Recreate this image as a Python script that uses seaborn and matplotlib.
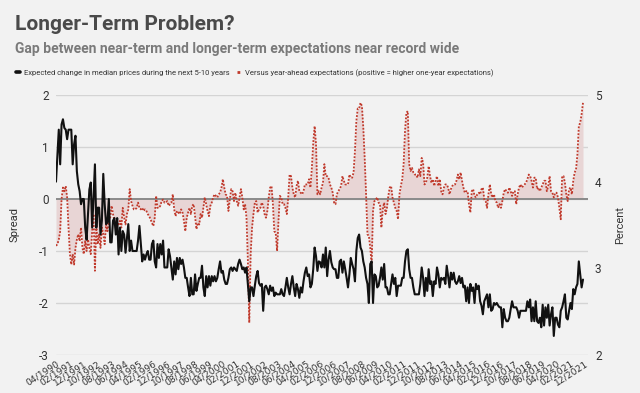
import numpy as np
import pandas as pd
import matplotlib
matplotlib.use("Agg")
import matplotlib.pyplot as plt
from matplotlib.lines import Line2D
import seaborn as sns

# ---------------- data (monthly, 04/1990 .. 11/2021) ----------------
long_term_pct = [
    4.0, 4.3, 4.6, 4.2, 4.66, 4.72, 4.62, 4.6, 4.49, 4.6, 4.6, 4.6, 4.2, 4.43, 4.53, 4.12, 3.97, 3.89, 3.74, 3.8,
    3.8, 3.47, 3.33, 3.62, 3.91, 3.99, 3.47, 3.82, 4.2, 3.47, 3.7, 3.7, 3.39, 3.55, 4.09, 3.74, 3.51, 3.53, 3.8, 3.3,
    3.3, 3.55, 3.58, 3.39, 3.58, 3.16, 3.47, 3.2, 3.43, 3.39, 3.18, 3.35, 3.51, 3.2, 3.32, 3.2, 3.2, 3.2, 3.2, 3.32,
    3.49, 3.28, 3.08, 3.16, 3.1,
    3.16, 3.2, 3.1, 3.1, 3.28, 3.32, 3.08, 3.01, 3.28, 3.12, 3.28, 3.16, 3.32, 3.01, 3.01, 3.01, 3.22, 3.14, 3.01, 2.87,
    3.08, 2.93, 3.12, 2.99, 3.12, 3.05, 3.1, 3.01, 2.89, 2.89, 2.78, 2.68, 2.89, 2.7, 2.7, 2.93, 2.74, 2.82, 2.89, 2.89,
    3.03, 2.78, 2.68, 2.91, 2.78, 2.91, 2.8, 2.91, 2.85, 2.91, 2.85, 2.89, 2.99, 3.08, 2.95, 2.97, 2.87, 2.82, 2.82, 2.89,
    2.99, 3.01, 2.97,
    3.01, 2.99, 2.97, 3.05, 3.1, 3.05, 2.99, 3.01, 2.95, 3.01, 2.82, 2.62, 2.78, 2.78, 2.68, 2.8, 2.91, 2.97, 2.83, 2.8,
    2.82, 2.51, 2.78, 2.8, 2.76, 2.7, 2.8, 2.74, 2.78, 2.68, 2.72, 2.7, 2.7, 2.7, 2.76, 2.7, 2.68, 2.78, 2.89, 2.78,
    2.7, 2.82, 2.91, 2.78, 2.68, 2.82, 2.76, 2.66, 2.78, 2.72, 2.85, 2.95, 3.01, 2.91, 2.93, 2.78, 2.82, 2.99, 3.24, 3.14,
    2.97, 3.08, 3.07,
    3.01, 3.16, 3.01, 3.24, 2.91, 3.1, 3.2, 3.07, 3.01, 2.99, 2.99, 2.89, 2.89, 3.08, 3.1, 2.95, 3.08, 2.99, 2.89, 2.78,
    2.93, 3.12, 3.05, 2.99, 2.85, 3.2, 3.35, 3.39, 3.24, 3.2, 3.08, 3.01, 2.89, 2.82, 2.6, 3.05, 3.08, 2.6, 2.93, 2.91,
    2.78, 2.8, 2.89, 3.01, 2.87, 3.05, 2.78, 2.78, 2.7, 2.7, 2.82, 2.93, 2.82, 2.89, 2.68, 2.8, 2.8, 2.8, 2.89, 2.89,
    3.08, 3.2, 3.22,
    2.99, 2.89, 2.89, 2.78, 2.7, 2.7, 2.7, 2.7, 2.82, 3.01, 2.89, 2.68, 2.89, 2.74, 2.99, 2.82, 2.85, 2.68, 2.85, 2.82,
    3.01, 2.93, 2.78, 2.89, 2.87, 2.89, 2.82, 3.03, 2.91, 2.78, 2.95, 2.87, 2.95, 2.85, 2.82, 2.85, 2.91, 2.83, 2.89, 2.78,
    2.8, 2.62, 2.78, 2.6, 2.82, 2.74, 2.78, 2.6, 2.82, 2.76, 2.8, 2.62, 2.57, 2.47, 2.62, 2.66, 2.7, 2.55, 2.7, 2.51,
    2.53, 2.6,
    2.58, 2.6, 2.57, 2.55, 2.55, 2.32, 2.53, 2.43, 2.39, 2.39, 2.43, 2.53, 2.62, 2.55, 2.55, 2.55, 2.51, 2.43, 2.51, 2.51,
    2.51, 2.51, 2.51, 2.62, 2.55, 2.64, 2.39, 2.55, 2.39, 2.62, 2.39, 2.37, 2.43, 2.32, 2.58, 2.34, 2.55, 2.43, 2.58, 2.34,
    2.47, 2.55, 2.22, 2.43, 2.43, 2.35, 2.32, 2.51, 2.55, 2.62, 2.7, 2.43, 2.41, 2.51, 2.6, 2.53, 2.76, 2.7, 2.78, 2.82,
    3.08, 2.93, 2.78, 2.87,
]

spread_vs_year_ahead = [
    -0.9, -0.87, -0.78, -0.62, 0.0, 0.22, 0.15, 0.25, 0.03, -0.55, -1.06, -1.26, -1.06, -1.26, -0.94, -0.78, -0.68, -0.81, -0.55, -0.94,
    -1.06, -0.81, -1.0, -0.78, -0.94, -1.06, -0.62, -0.29, -1.38, -0.49, -0.87, -0.68, -0.94, -0.55, -0.68, -0.87, -0.49, -0.62, -0.42, -0.36,
    -0.13, -0.29, -0.42, -0.55, -0.46, -0.49, -0.42, -0.55, -0.17, -0.36, -0.49, -0.29, -0.2, 0.19, -0.04, -0.13, -0.2, -0.2, -0.17, -0.07,
    -0.17, -0.2, -0.17, -0.23, -0.2,
    -0.23, -0.29, -0.33, -0.39, -0.46, -0.52, -0.36, 0.06, -0.17, -0.17, -0.13, -0.04, -0.01, -0.07, -0.07, -0.04, -0.13, -0.1, -0.07, 0.09,
    -0.2, -0.33, -0.23, -0.26, -0.29, -0.2, -0.26, -0.42, -0.62, -0.36, -0.26, -0.17, -0.29, -0.13, -0.1, -0.33, -0.58, -0.46, -0.49, -0.29,
    -0.36, -0.17, 0.03, -0.1, -0.23, -0.33, -0.13, -0.07, 0.03, 0.09, 0.06, 0.03, 0.09, 0.12, 0.22, 0.38, 0.22, 0.09, 0.06, -0.23,
    -0.01, 0.19, 0.15,
    -0.04, 0.12, -0.04, -0.13, 0.03, 0.19, 0.03, -0.2, -0.1, -0.36, -1.19, -2.38, -1.06, -0.55, -0.29, -0.07, -0.04, -0.26, -0.2, -0.17,
    -0.07, -0.13, -0.29, -0.36, -0.23, 0.03, 0.22, 0.25, -0.1, -0.62, -0.65, -1.0, -0.42, 0.06, 0.03, -0.1, -0.1, -0.17, -0.29, 0.03,
    0.47, 0.44, 0.22, 0.09, 0.03, 0.25, 0.35, 0.15, 0.12, 0.09, 0.15, 0.28, 0.28, 0.28, 0.38, 0.22, 0.6, 1.08, 1.4, 1.05,
    0.09, 0.15, 0.09,
    0.22, 0.31, 0.67, 0.44, 0.44, 0.41, 0.28, 0.22, 0.12, -0.07, -0.1, 0.09, 0.15, 0.19, 0.25, 0.44, 0.35, 0.28, 0.28, 0.28,
    0.47, 0.41, 0.41, 0.51, 0.92, 1.5, 1.74, 1.74, 1.85, 1.79, 1.37, 0.79, 0.09, -0.68, -0.71, -0.94, -1.25, -0.23, -0.04, -0.01,
    0.03, -0.07, -0.1, -0.55, -0.2, -0.07, -0.29, -0.17, 0.06, 0.22, 0.25, 0.03, -0.07, -0.17, -0.23, -0.39, 0.09, 0.25, 0.38, 0.67,
    1.31, 1.66, 1.69,
    0.67, 0.54, 0.6, 0.51, 0.47, 0.47, 0.41, 0.57, 0.44, 0.79, 0.7, 0.28, 0.31, 0.41, 0.63, 0.44, 0.31, 0.38, 0.25, 0.35,
    0.44, 0.25, 0.38, 0.15, 0.09, 0.22, 0.28, 0.28, 0.22, 0.09, 0.19, 0.25, 0.28, 0.28, 0.35, 0.47, 0.38, 0.51, 0.35, 0.22,
    0.12, 0.15, 0.15, -0.1, -0.26, 0.15, 0.19, 0.06, 0.03, 0.09, 0.12, 0.09, 0.19, 0.22, -0.01, -0.04, -0.17, 0.09, 0.28, 0.09,
    0.03, 0.09,
    -0.04, -0.07, -0.17, -0.1, -0.17, -0.04, 0.12, 0.19, 0.15, 0.12, 0.22, 0.15, 0.06, 0.15, 0.15, -0.1, 0.09, 0.22, 0.28, 0.22,
    0.25, 0.28, 0.31, 0.38, 0.47, 0.44, 0.35, 0.22, 0.41, 0.41, 0.19, 0.22, 0.15, 0.22, 0.28, 0.35, 0.35, 0.15, 0.25, 0.44,
    0.15, 0.12, 0.03, 0.12, 0.12, 0.03, -0.17, -0.39, 0.44, 0.44, 0.31, 0.09, -0.04, 0.19, 0.22, 0.09, 0.35, 0.51, 0.57, 0.86,
    1.4, 1.47, 1.63, 1.85,
]

assert len(long_term_pct) == 380, len(long_term_pct)
assert len(spread_vs_year_ahead) == 380, len(spread_vs_year_ahead)

months = pd.date_range("1990-04-01", periods=381, freq="MS")   # axis categories to 12/2021
month_labels = [d.strftime("%m/%Y") for d in months]
tick_every = 10

title = "Longer-Term Problem?"
subtitle = "Gap between near-term and longer-term expectations near record wide"
legend_labels = ["Expected change in median prices during the next 5-10 years",
                 "Versus year-ahead expectations (positive = higher one-year expectations)"]

df = pd.DataFrame({
    "idx": np.arange(len(long_term_pct)),
    "long_term": long_term_pct,
    "spread": spread_vs_year_ahead,
})

# ---------------- style ----------------
BG = "#f2f2f2"
sns.set_theme(style="white")
plt.rcParams["font.family"] = ["Roboto", "DejaVu Sans"]
plt.rcParams["figure.facecolor"] = BG
plt.rcParams["axes.facecolor"] = BG

RED = "#c0392b"
FILL = "#e8d5d5"
TXT = "#333333"

fig = plt.figure(figsize=(6.4, 3.93), dpi=100)
ax = fig.add_axes([56 / 640, 1 - 355 / 393, (588 - 56) / 640, (355 - 95) / 393])
ax.set_facecolor(BG)

ax.set_ylim(-3, 2)
ax.set_yticks([-3, -2, -1, 0, 1, 2])
ax.grid(axis="y", color="#d4d4d4", linewidth=1.0)
ax.grid(axis="x", visible=False)
ax.set_axisbelow(True)

ax.fill_between(df["idx"], df["spread"], 0, color=FILL, linewidth=0, zorder=1)
ax.axhline(0, color="#8a8a8a", linewidth=1.4, zorder=2)
sns.lineplot(data=df, x="idx", y="spread", ax=ax, color=RED, linewidth=1.3,
             linestyle=(0, (1, 0.9)), zorder=3)

ax2 = ax.twinx()
ax2.set_ylim(2, 5)
ax2.set_yticks([2, 3, 4, 5])
ax2.grid(False)
sns.lineplot(data=df, x="idx", y="long_term", ax=ax2, color="#111111", linewidth=1.5, zorder=4)

for a in (ax, ax2):
    for s in a.spines.values():
        s.set_visible(False)
    a.set_xlim(0, 382.6)

ax.set_xticks(range(0, len(month_labels), tick_every))
ax.set_xticklabels(month_labels[::tick_every], rotation=33, ha="right",
                   rotation_mode="anchor", fontsize=6.6, color=TXT, family="DejaVu Sans")
ax.tick_params(axis="x", length=0, pad=3)
ax.tick_params(axis="y", length=0, pad=5, labelsize=8.5, labelcolor=TXT)
ax2.tick_params(axis="y", length=0, pad=5, labelsize=8.5, labelcolor=TXT)
ax.set_yticklabels([str(v) for v in [-3, -2, -1, 0, 1, 2]])
ax.set_xlabel("")
ax.set_ylabel("Spread", fontsize=8, color=TXT, labelpad=14)
ax2.set_ylabel("Percent", fontsize=8, color=TXT, labelpad=10)

fig.text(15 / 640, 1 - 24 / 393, title, fontsize=15, fontweight="bold",
         color="#4a4a4a", va="center", ha="left")
fig.text(15 / 640, 1 - 49 / 393, subtitle, fontsize=10, fontweight="bold",
         color="#7a7a7a", va="center", ha="left")

handles = [Line2D([0], [0], color="#111111", linewidth=2.6),
           Line2D([0], [0], color=RED, linewidth=2.0, linestyle=(0, (1, 1.2)))]
fig.legend(handles, legend_labels, loc="center left", bbox_to_anchor=(9 / 640, 1 - 73 / 393),
           ncol=2, frameon=False, fontsize=5.5, handlelength=0.6, handletextpad=0.5,
           columnspacing=0.9, labelcolor=TXT)

fig.savefig("out.png", dpi=100, facecolor=BG)
